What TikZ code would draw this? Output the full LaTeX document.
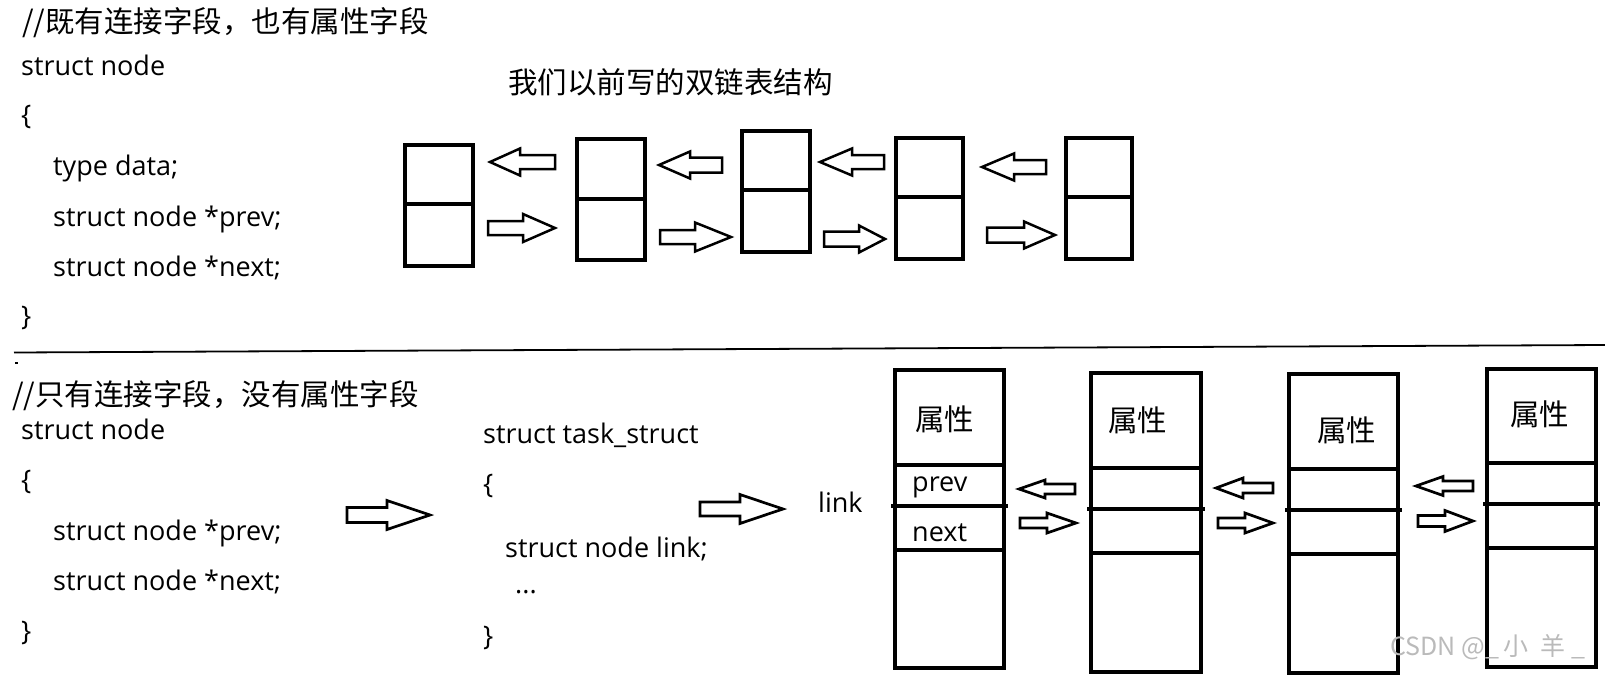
\documentclass[tikz,border=0pt]{standalone}
\usepackage{fontspec}
\setmainfont{Open Sans}
\newfontfamily\cjk{Noto Sans CJK SC}
\tikzset{
  code/.style={anchor=base west, inner sep=0pt, font=\fontsize{27}{31}\selectfont},
  zh/.style={anchor=base west, inner sep=0pt, font=\cjk\fontsize{29.5}{34}\selectfont},
  box/.style={draw, line width=3.1pt, inner sep=0pt},
  divline/.style={line width=3.1pt},
  barrow/.style={draw, line width=2.5pt, line join=miter},
  sbarrow/.style={draw, line width=2.7pt, line join=miter},
  wmark/.style={anchor=base west, inner sep=0pt, text=black!27, font=\cjk\fontsize{25}{30}\selectfont},
}
% tail x, tip x, y, half shaft, half head, head base x
\newcommand\blockarrow[7][barrow]{%
  \draw[#1] (#2,#4-#5) -- (#7,#4-#5) -- (#7,#4-#6) -- (#3,#4) -- (#7,#4+#6) -- (#7,#4+#5) -- (#2,#4+#5) -- cycle;}
\begin{document}
\begin{tikzpicture}[x=1pt,y=-1pt]
\useasboundingbox (0,0) rectangle (1605,680);

% ---------- top part ----------
\node[zh] (c1) at (22,32) {//既有连接字段，也有属性字段};
\node[code] (s1) at (21,75) {struct node};
\node[code] (o1) at (21,124) {\{};
\node[code] (f1) at (53,175) {type data;};
\node[code] (f2) at (53,226) {struct node *prev;};
\node[code] (f3) at (53,276) {struct node *next;};
\node[code] (e1) at (21,325) {\}};
\node[zh] (title) at (508,93) {我们以前写的双链表结构};

\node[box, minimum width=68pt, minimum height=121pt] (t1) at (439,205.5) {};
\node[box, minimum width=68pt, minimum height=121pt] (t2) at (611,199.5) {};
\node[box, minimum width=68pt, minimum height=121pt] (t3) at (776,191.5) {};
\node[box, minimum width=67pt, minimum height=121pt] (t4) at (929.5,198.5) {};
\node[box, minimum width=66pt, minimum height=121pt] (t5) at (1099,198.5) {};
\draw[divline] (t1.west |- 0,204) -- (t1.east |- 0,204);
\draw[divline] (t2.west |- 0,199) -- (t2.east |- 0,199);
\draw[divline] (t3.west |- 0,190) -- (t3.east |- 0,190);
\draw[divline] (t4.west |- 0,197) -- (t4.east |- 0,197);
\draw[divline] (t5.west |- 0,197) -- (t5.east |- 0,197);

\blockarrow{555}{490}{162}{7}{13.5}{520}
\blockarrow{488}{555}{228}{7}{14}{523}
\blockarrow{722}{659}{165}{7.5}{13.5}{690}
\blockarrow{660}{731}{237}{7}{14.5}{695}
\blockarrow{884}{820}{162}{7}{13.5}{852}
\blockarrow{824}{885}{239}{7.5}{13.5}{859}
\blockarrow{1046}{982}{167}{7}{13.5}{1014}
\blockarrow{987}{1055}{235}{7.5}{13.5}{1024}

% ---------- separator ----------
\coordinate (sepL) at (14,352.5);
\coordinate (sepR) at (1605,345);
\draw[line width=1.8pt] (sepL) -- (sepR);
\coordinate (dotA) at (15,363);
\coordinate (dotB) at (18,363);
\draw[line width=1.5pt] (dotA) -- (dotB);

% ---------- bottom part ----------
\node[zh] (c2) at (12,405) {//只有连接字段，没有属性字段};
\node[code] (s2) at (21,439) {struct node};
\node[code] (o2) at (21,489) {\{};
\node[code] (g1) at (53,540) {struct node *prev;};
\node[code] (g2) at (53,590) {struct node *next;};
\node[code] (e2) at (21,640) {\}};

\node[code] (s3) at (483,443) {struct task\_struct};
\node[code] (o3) at (483,493) {\{};
\node[code] (h1) at (505,557) {struct node link;};
\node[code] (h2) at (515,593) {...};
\node[code] (e3) at (483,645) {\}};
\node[code] (lk) at (818,512) {link};

\blockarrow[sbarrow]{347}{430}{515}{7.5}{14.5}{387}
\blockarrow[sbarrow]{700}{783}{509}{7}{14.5}{740}

\node[box, minimum width=109pt, minimum height=298pt] (bA) at (949.5,519) {};
\node[box, minimum width=110pt, minimum height=299pt] (bB) at (1146,522.5) {};
\node[box, minimum width=109pt, minimum height=299pt] (bC) at (1343.5,523.5) {};
\node[box, minimum width=109pt, minimum height=298pt] (bD) at (1541.5,518) {};
\draw[divline] (bA.west |- 0,465) -- (bA.east |- 0,465);
\draw[divline] ([xshift=-2pt]bA.west |- 0,506) -- ([xshift=2pt]bA.east |- 0,506);
\draw[divline] (bA.west |- 0,550) -- (bA.east |- 0,550);
\draw[divline] (bB.west |- 0,468) -- (bB.east |- 0,468);
\draw[divline] ([xshift=-2pt]bB.west |- 0,509) -- ([xshift=2pt]bB.east |- 0,509);
\draw[divline] (bB.west |- 0,553) -- (bB.east |- 0,553);
\draw[divline] (bC.west |- 0,469) -- (bC.east |- 0,469);
\draw[divline] ([xshift=-2pt]bC.west |- 0,510) -- ([xshift=2pt]bC.east |- 0,510);
\draw[divline] (bC.west |- 0,554) -- (bC.east |- 0,554);
\draw[divline] (bD.west |- 0,463) -- (bD.east |- 0,463);
\draw[divline] ([xshift=-2pt]bD.west |- 0,504) -- ([xshift=2pt]bD.east |- 0,504);
\draw[divline] (bD.west |- 0,548) -- (bD.east |- 0,548);

\node[zh] (pA) at (915,430) {属性};
\node[zh] (pB) at (1108,431) {属性};
\node[zh] (pC) at (1317,441) {属性};
\node[zh] (pD) at (1510,425) {属性};
\node[code] (pv) at (912,491) {prev};
\node[code] (nx) at (912,541) {next};

\blockarrow[sbarrow]{1075}{1019}{489}{5}{9}{1045}
\blockarrow[sbarrow]{1020}{1076}{523}{5}{10}{1047}
\blockarrow[sbarrow]{1273}{1216}{488}{5}{10}{1243}
\blockarrow[sbarrow]{1218}{1273}{523}{5}{10}{1245}
\blockarrow[sbarrow]{1473}{1416}{486}{5}{9.5}{1443}
\blockarrow[sbarrow]{1418}{1473}{521}{5.5}{10.5}{1445}

\node[wmark] (wm) at (1390,655) {CSDN @\hspace{1pt}\_\hspace{4pt}小\hspace{12pt}羊\hspace{6pt}\_};
\end{tikzpicture}
\end{document}
